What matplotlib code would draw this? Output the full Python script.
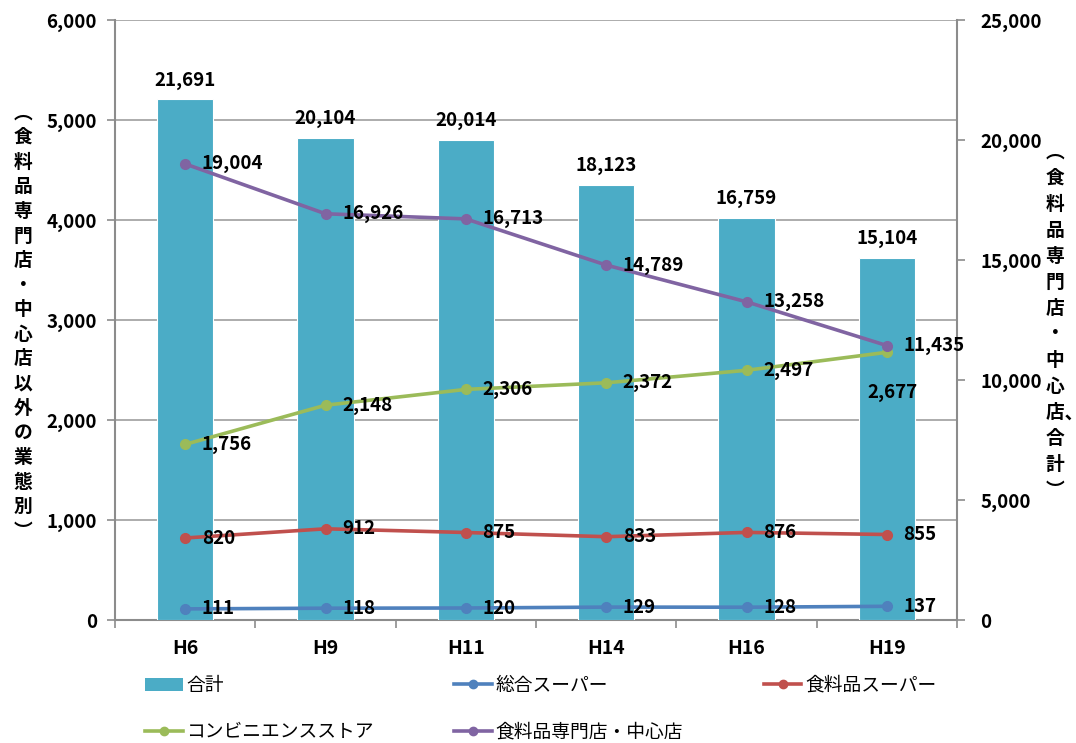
import numpy as np
import matplotlib
matplotlib.use('Agg')
import matplotlib.pyplot as plt
from matplotlib.ticker import FuncFormatter, FixedLocator
from matplotlib.lines import Line2D
from matplotlib.patches import Patch

plt.rcParams['font.family'] = ['Noto Sans CJK JP', 'DejaVu Sans']

# データ
years = ['H6', 'H9', 'H11', 'H14', 'H16', 'H19']
total = [21691, 20104, 20014, 18123, 16759, 15104]           # 合計 (右軸)
gms = [111, 118, 120, 129, 128, 137]                        # 総合スーパー
food_super = [820, 912, 875, 833, 876, 855]                 # 食料品スーパー
cvs = [1756, 2148, 2306, 2372, 2497, 2677]                  # コンビニエンスストア
specialty = [19004, 16926, 16713, 14789, 13258, 11435]      # 食料品専門店・中心店 (右軸)

c_bar = '#4BACC6'
c_blue = '#4F81BD'
c_red = '#C0504D'
c_green = '#9BBB59'
c_purple = '#8064A2'
c_axis = '#8C8C8C'

W, H = 1076, 743
fig = plt.figure(figsize=(W / 100, H / 100), dpi=100)
ax = fig.add_axes([115 / W, 1 - 620 / H, (957 - 115) / W, 600 / H])
x = np.arange(len(years))

# 左軸: 目盛り・グリッド
ax.set_xlim(-0.5, len(years) - 0.5)
ax.set_ylim(0, 6000)
ax.set_yticks(np.arange(0, 6001, 1000))
ax.yaxis.set_major_formatter(FuncFormatter(lambda v, p: f'{int(v):,}'))
ax.grid(axis='y', color='#A6A6A6', linewidth=1.3)
ax.set_axisbelow(True)
ax.set_xticks(x)
ax.set_xticklabels(years, fontsize=14, fontweight='bold')
ax.xaxis.set_minor_locator(FixedLocator(np.arange(-0.5, len(years), 1.0)))
ax.tick_params(axis='x', which='major', length=0, pad=14)
ax.tick_params(axis='x', which='minor', length=6, width=1.2, color=c_axis)
ax.tick_params(axis='y', length=6, width=1.2, color=c_axis, pad=7, labelsize=13.5)
for lab in ax.get_yticklabels():
    lab.set_fontweight('bold')
for s in ['top', 'right']:
    ax.spines[s].set_visible(False)
for s in ['left', 'bottom']:
    ax.spines[s].set_color(c_axis)
    ax.spines[s].set_linewidth(1.5)

# 右軸: 合計の棒
axr = ax.twinx()
axr.set_ylim(0, 25000)
axr.set_yticks(np.arange(0, 25001, 5000))
axr.yaxis.set_major_formatter(FuncFormatter(lambda v, p: f'{int(v):,}'))
axr.tick_params(axis='y', length=6, width=1.2, color=c_axis, pad=11, labelsize=13.5)
for lab in axr.get_yticklabels():
    lab.set_fontweight('bold')
for s in ['top', 'left', 'bottom']:
    axr.spines[s].set_visible(False)
axr.spines['right'].set_color(c_axis)
axr.spines['right'].set_linewidth(1.5)
bars = axr.bar(x, total, width=0.4, color=c_bar, edgecolor='white', linewidth=0.8)
for b, v in zip(bars, total):
    axr.annotate(f'{v:,}', xy=(b.get_x() + b.get_width() / 2, v), xytext=(0, 7),
                 textcoords='offset points', ha='center', va='bottom',
                 fontsize=13.5, fontweight='bold')

# 左軸スケールの折れ線
axl = ax.twinx()
axl.set_ylim(0, 6000)
axl.set_yticks([])
for s in axl.spines.values():
    s.set_visible(False)
line_kw = dict(linewidth=2.6, marker='o', markersize=7)
axl.plot(x, gms, color=c_blue, **line_kw)
axl.plot(x, food_super, color=c_red, **line_kw)
axl.plot(x, cvs, color=c_green, **line_kw)

# 右軸スケールの折れ線
axp = ax.twinx()
axp.set_ylim(0, 25000)
axp.set_yticks([])
for s in axp.spines.values():
    s.set_visible(False)
axp.plot(x, specialty, color=c_purple, **line_kw)

def label_points(a, vals, special=None):
    special = special or {}
    for i, v in enumerate(vals):
        dx, dy, ha = special.get(i, (12, 0, 'left'))
        a.annotate(f'{v:,}', xy=(i, v), xytext=(dx, dy), textcoords='offset points',
                   ha=ha, va='center', fontsize=13.5, fontweight='bold')

label_points(axl, gms)
label_points(axl, food_super)
label_points(axl, cvs, special={5: (4, -29, 'center')})
label_points(axp, specialty)

# 縦書きの軸ラベル
def vertical_label(rows, xc, y0, step):
    for k, r in enumerate(rows):
        yc = y0 + k * step
        fig.text(xc / W, 1 - yc / H, r[0], ha='center', va='center',
                 fontsize=13.5, fontweight='bold')
        if len(r) > 1:
            fig.text((xc + 10) / W, 1 - (yc + 1) / H, r[1:], ha='left', va='center',
                     fontsize=13.5, fontweight='bold')

vertical_label(list('︵食料品専門店・中心店以外の業態別︶'), 23, 113, 24.6)
vertical_label(['︵', '食', '料', '品', '専', '門', '店', '・', '中', '心', '店､', '合', '計', '︶'],
               1055, 152, 26)

# 凡例
handles = [
    Patch(facecolor=c_bar, label='合計'),
    Line2D([], [], color=c_green, marker='o', linewidth=2.6, markersize=6, label='コンビニエンスストア'),
    Line2D([], [], color=c_blue, marker='o', linewidth=2.6, markersize=6, label='総合スーパー'),
    Line2D([], [], color=c_purple, marker='o', linewidth=2.6, markersize=6, label='食料品専門店・中心店'),
    Line2D([], [], color=c_red, marker='o', linewidth=2.6, markersize=6, label='食料品スーパー'),
]
fig.legend(handles=handles, ncol=3, loc='upper left', bbox_to_anchor=(145 / W, 1 - 675 / H),
           frameon=False, fontsize=13.5, handlelength=2.0, handletextpad=0.2,
           columnspacing=4.3, labelspacing=1.35, borderaxespad=0, borderpad=0)

fig.savefig('out.png', dpi=100)
